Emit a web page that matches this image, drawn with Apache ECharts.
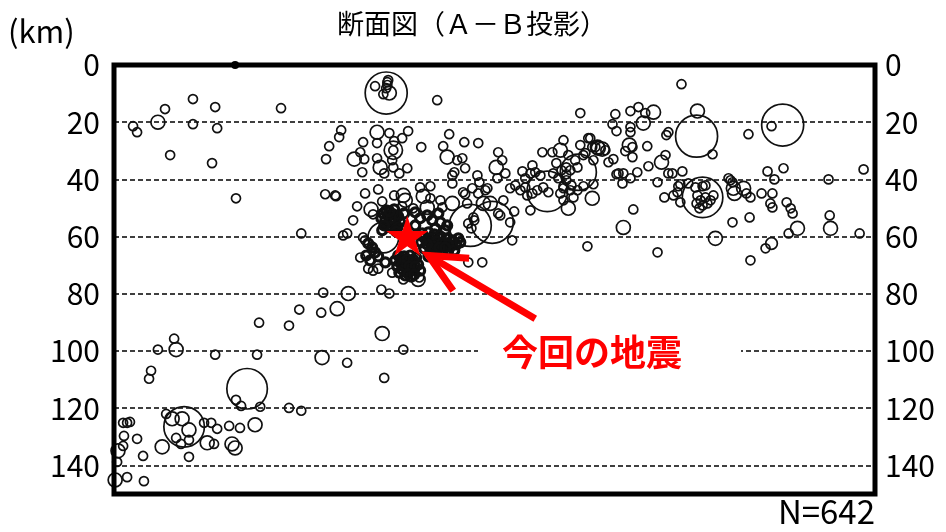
<!DOCTYPE html>
<html><head><meta charset="utf-8">
<script src="https://cdn.jsdelivr.net/npm/echarts@6/dist/echarts.min.js"></script>
<style>html,body{margin:0;padding:0;background:#fff}#c{width:946px;height:532px}</style>
</head><body><div id="c"></div>
<script>
// [distance km along A-B, depth km, magnitude]
const westShallow = [[6.7,21.4,2],[8.1,23.5,2],[15.4,20.0,2.7],[17.9,15.4,2],[27.7,11.9,2],[27.7,20.7,2],[35.5,14.7,2],[36.2,22.1,2],[19.7,31.5,2],[34.4,34.3,2],[42.8,46.6,2],[58.6,15.1,2]];
const westSlab = [[73.4,79.6,2],[82.2,79.9,2.7],[78.3,85.2,2.7],[65.0,85.5,2],[72.7,86.6,2],[50.9,90.1,2],[61.4,91.1,2],[21.1,95.7,2],[21.8,99.5,2.7],[15.4,99.5,2],[35.5,101.3,2],[50.2,101.3,2],[73.0,102.3,2.7],[81.8,104.1,2],[13.0,106.9,2],[12.3,109.7,2],[46.7,113.2,5.0],[42.8,117.1,2],[44.6,119.2,2],[51.3,119.5,2],[61.4,119.9,2],[65.7,120.9,2],[24.6,126.5,5.0],[18.3,122.0,2],[20.4,123.7,2.7],[23.9,123.7,2.7],[26.3,127.6,2.7],[21.8,130.4,2],[23.5,132.5,2],[26.3,131.1,2],[26.3,137.0,2],[16.9,133.5,2.7],[31.6,125.1,2],[34.1,125.1,2],[36.2,127.2,2],[32.7,132.1,2.7],[35.1,132.5,2],[40.4,126.2,2],[44.2,126.9,2],[49.5,125.8,2.7],[41.4,132.5,2.7],[42.5,133.9,2.7],[3.2,125.1,2],[4.6,125.1,2],[5.6,124.8,2],[3.5,129.7,2],[8.1,130.7,2],[3.2,133.2,2],[1.4,134.9,2.7],[1.1,138.8,2],[10.2,136.7,2],[0.4,145.1,2.7],[4.6,144.1,2],[10.5,145.5,2],[94.1,93.9,2.7],[93.8,78.5,2],[96.6,79.9,2],[101.5,99.5,2],[94.8,109.4,2],[107.1,74.3,2]];
const centralUpper = [[79.7,22.8,2],[79.0,25.2,2],[75.5,28.4,2],[74.4,32.9,2],[86.4,30.5,2],[74.1,45.2,2],[77.6,45.6,2],[85.3,49.4,2],[83.9,54.3,2],[81.8,58.9,2],[65.7,58.9,2],[86.4,67.3,2],[95.5,9.8,5.1],[91.6,7.4,2],[94.5,10.2,2],[96.6,9.8,2.7],[95.9,7.0,2],[95.9,6.0,2],[96.2,5.3,2],[95.5,8.1,2],[113.4,12.3,2],[163.6,16.8,2],[92.3,23.5,2.7],[96.6,23.8,2],[87.4,27.0,2],[92.3,27.3,2],[98.3,26.6,2],[101.1,25.6,2],[103.2,23.1,2],[98.0,29.8,3.2],[98.0,29.8,2],[107.8,28.7,2],[117.6,24.2,2],[122.9,27.0,2],[127.8,27.3,2],[115.5,28.4,2],[84.3,32.9,2.7],[87.8,32.9,2],[92.3,32.6,2],[93.4,35.8,2.7],[97.6,33.3,2],[98.0,35.8,2],[102.9,36.1,2],[100.1,37.9,2],[94.8,37.9,2],[87.1,37.5,2],[116.9,32.2,2.7],[120.4,33.3,2],[122.2,32.6,2],[119.4,37.5,2],[123.2,36.1,2],[118.7,38.6,2],[127.5,38.6,2],[134.1,35.8,2.7],[134.8,30.5,2],[136.2,33.3,2],[137.3,37.9,2],[134.5,39.6,2]];
const centralMid = [[77.9,45.9,2],[88.1,44.9,2],[92.7,43.5,2],[94.1,47.7,2],[90.9,52.2,2],[90.2,50.5,2.7],[98.3,45.6,2],[101.5,45.6,2.7],[102.2,47.3,2.7],[101.1,49.4,2],[107.4,42.8,2],[111.0,42.4,2],[108.5,45.9,2.7],[111.0,46.6,2],[105.0,50.1,2],[109.9,49.8,2.7],[114.5,47.3,2],[115.2,49.8,2],[118.7,48.4,2.7],[123.2,45.2,2],[123.9,48.4,2],[127.8,44.9,2],[131.0,43.1,2],[118.7,41.4,2],[128.2,41.0,2],[132.0,48.4,2.7],[125.0,56.1,5.1],[132.7,55.0,5.1],[124.3,55.4,2],[125.4,57.1,2],[126.4,54.3,2],[136.6,47.3,2],[134.8,51.9,2],[139.0,55.0,2],[139.7,61.3,2],[140.4,51.2,2],[88.1,61.3,2],[94.5,60.3,4.3],[87.4,60.3,2],[90.9,71.9,2],[89.2,71.2,2],[92.7,71.2,2],[97.6,72.6,2],[101.5,75.0,2],[106.7,75.0,2.7],[80.4,59.6,2],[124.3,69.0,2],[129.2,69.0,2],[122.5,44.5,2],[125.7,43.1,2],[130.3,43.8,2],[129.6,48.4,2.7],[135.5,52.6,2],[126.1,53.3,2]];
const eastNear = [[143.3,37.2,2],[146.8,35.1,2],[146.1,37.9,2],[147.8,37.5,2],[149.6,38.6,2],[150.3,30.5,2],[153.8,30.5,2],[157.7,26.3,2],[156.6,29.8,2.7],[155.2,34.3,2],[158.7,35.8,2],[157.0,36.8,2],[160.1,36.8,2],[154.1,37.9,2],[155.9,39.6,2],[158.7,40.3,2],[157.7,42.4,2],[160.5,42.1,2],[156.6,44.9,2],[158.7,38.2,2],[161.8,33.3,2],[159.4,31.5,2],[162.6,35.8,2],[166.4,25.6,2],[167.8,28.7,2],[169.6,28.7,2.7],[163.6,28.0,2],[165.4,30.8,2],[139.0,43.1,2],[140.8,42.1,2],[142.6,43.8,2],[144.3,42.8,2],[145.0,45.6,2],[146.8,44.9,2],[148.5,43.8,2],[150.6,42.8,2],[152.4,44.5,2],[144.3,39.6,2],[152.0,44.2,5.0],[162.9,37.5,4.7],[160.1,43.8,2],[162.6,43.8,2],[161.2,46.3,2],[157.7,43.1,2],[157.7,47.3,2],[146.1,50.8,2],[159.4,50.1,2.7],[167.8,46.6,2.7]];
const eastFar = [[199.1,6.7,2],[175.9,17.2,2],[181.2,16.1,2],[184.0,14.7,2],[186.4,16.8,2],[189.3,16.5,2.7],[185.7,20.3,2.7],[174.9,20.7,2],[176.3,23.1,2],[181.2,21.7,2],[181.2,23.5,2],[204.7,16.1,2.7],[204.4,24.9,5.1],[210.0,31.2,2],[194.5,23.5,2],[193.8,24.5,2],[234.6,21.0,5.1],[230.7,21.4,2],[222.6,24.2,2],[167.1,25.6,2],[169.9,29.1,2.7],[171.3,29.4,2.7],[172.4,29.8,2],[168.9,28.7,2],[180.8,28.0,2.7],[181.9,28.7,2],[187.1,28.4,2],[179.4,30.1,2],[181.9,32.2,2],[175.2,32.9,2],[173.5,34.0,2],[168.2,33.3,2],[164.7,31.5,2],[192.1,34.0,2.7],[193.5,31.5,2],[187.5,35.4,2],[183.6,37.5,2],[177.0,37.9,2],[178.7,37.9,2],[176.3,38.2,2],[181.2,39.6,2],[178.4,41.4,2],[194.5,37.9,2],[195.9,37.9,2],[199.4,37.2,2],[190.7,41.0,2],[198.0,42.4,2],[198.7,41.7,2],[197.7,44.5,2],[201.5,41.4,2],[168.2,41.7,2],[164.7,42.4,2],[193.1,46.3,2],[196.3,45.6,2],[198.7,48.0,2],[206.5,46.3,5.0],[204.0,42.8,2],[206.5,42.4,2],[207.5,42.1,2],[204.7,45.6,2],[205.8,47.3,2],[207.5,46.3,2],[209.3,47.3,2],[204.4,48.4,2],[206.5,49.1,2],[208.2,48.4,2],[210.3,45.6,2],[205.4,50.1,2],[215.6,39.6,2],[216.3,40.3,2],[217.0,41.0,2],[217.3,43.1,2.7],[217.7,44.9,2.7],[220.9,43.1,2.7],[221.9,44.9,2],[223.3,46.3,2],[227.2,44.9,2],[229.3,37.2,2],[234.9,36.1,2],[231.7,40.0,2],[231.0,44.9,2],[230.3,48.4,2],[231.0,49.8,2],[236.0,48.0,2],[237.4,50.1,2],[238.1,51.9,2],[250.7,40.0,2],[263.0,36.5,2],[251.1,52.6,2],[251.4,57.1,2.7],[239.8,57.1,2.7],[236.7,58.9,2],[261.6,58.9,2],[230.7,62.4,2.4],[228.6,64.1,2],[211.0,60.6,2.7],[223.0,53.3,2],[217.0,55.0,2],[182.2,50.5,2],[178.7,56.8,2.7],[166.1,63.4,2],[190.7,65.5,2],[223.3,68.3,2]];
const aftershocks = [[94.5,51.9,2],[96.2,52.6,2],[98.0,52.2,2],[99.7,52.9,2],[95.2,54.3,2],[96.9,55.0,2],[98.7,54.3,2],[100.4,55.0,2],[95.9,56.4,2],[97.6,57.1,2],[99.4,56.8,2],[94.1,57.8,2],[101.1,57.1,2],[95.5,50.8,2],[98.3,50.5,2],[93.8,53.6,2],[101.8,51.9,2],[97.2,53.6,2],[94.8,56.1,2],[99.0,58.2,2],[96.6,51.2,2],
[108.1,58.9,2],[110.3,58.5,2],[112.4,59.2,2],[114.5,59.9,2],[116.6,60.6,2],[118.7,61.3,2],[109.6,61.3,2],[111.7,62.0,2],[113.8,62.4,2],[115.9,62.7,2],[118.0,63.4,2],[120.1,62.7,2],[108.8,64.1,2],[111.0,64.8,2],[113.1,64.8,2],[115.2,65.5,2],[117.3,64.8,2],[110.3,66.9,2],[112.4,67.3,2],[114.5,60.6,2],[120.8,60.6,2],[116.2,57.8,2],[112.7,57.1,2],[108.8,60.3,2],[111.0,60.6,2],[113.1,61.7,2],[115.2,62.0,2],[117.3,62.7,2],[119.4,64.8,2],[112.0,63.4,2],[114.2,63.8,2],[109.9,62.7,2],[116.2,63.8,2],[121.5,62.0,2],[107.8,62.0,2],
[99.7,66.6,2],[101.8,66.9,2],[103.9,66.6,2],[106.0,67.3,2],[100.4,69.0,2],[102.5,69.4,2],[104.6,69.0,2],[106.7,69.8,2],[101.1,71.5,2],[103.2,71.9,2],[105.3,71.5,2],[102.2,73.6,2],[104.3,74.0,2],[99.4,70.4,2],[107.4,71.9,2],[100.8,67.6,2],[102.9,68.0,2],[105.0,68.0,2],[101.5,70.1,2],[103.6,70.4,2],[105.7,70.4,2],[100.1,72.6,2],[103.2,73.0,2],[105.3,73.3,2],[98.7,68.3,2],
[105.7,51.5,2],[107.4,53.6,2],[109.9,52.6,2],[111.7,54.3,2],[113.8,51.9,2],[105.7,56.1,2],[114.5,55.0,2],[116.9,56.1,2],
[89.2,62.4,2],[90.6,63.8,2],[91.6,65.5,2],[88.5,66.6,2],[89.9,68.3,2],[92.7,66.9,2],[95.2,69.0,2]];
const surfaceMark = [[42.5, 0]];
const mainshock = [[102.9, 59.7]];
const arrowShaft = [[147.8, 88.7], [110.3, 66.6]];
const arrowHead = [[124.6, 67.6], [110.3, 66.6], [119.0, 78.9]];
const depthTicks = [0, 20, 40, 60, 80, 100, 120, 140];

const hypocenters = [].concat(westShallow, westSlab, centralUpper, centralMid, eastNear, eastFar);
const FONT = '"Noto Sans CJK JP", "Noto Sans", sans-serif';
const chart = echarts.init(document.getElementById('c'));
const yAx = (pos, margin, split) => ({
  type: 'value', position: pos, inverse: true, min: 0, max: 150, interval: 20,
  axisLine: {show: false}, axisTick: {show: false},
  axisLabel: {show: true, margin: margin, color: '#000', fontSize: 30, fontFamily: FONT,
    formatter: v => depthTicks.indexOf(v) >= 0 ? String(v) : ''},
  splitLine: {show: split, lineStyle: {color: '#000', width: 1.5, type: [5, 3]}}
});
const ring = w => ({color: 'rgba(0,0,0,0)', borderColor: '#111', borderWidth: w, opacity: 1});
chart.setOption({
  animation: false,
  backgroundColor: '#fff',
  title: {text: '断面図（Ａ－Ｂ投影）', left: 332, top: 5,
    textStyle: {fontSize: 27, fontWeight: 'normal', color: '#000', fontFamily: FONT}},
  grid: {left: 114, right: 71, top: 65, bottom: 38, show: true, borderColor: '#000', borderWidth: 5, z: 5},
  xAxis: {type: 'value', min: 0, max: 267, show: false, splitLine: {show: false}},
  yAxis: [yAx('left', 14, true), yAx('right', 10, false)],
  graphic: [
    {type: 'text', left: 8, top: 16, z: 50, style: {text: '(km)', font: '31px ' + FONT, fill: '#000'}},
    {type: 'text', right: 71, top: 495, z: 50, style: {text: 'N=642', font: '33px ' + FONT, fill: '#000'}},
    {type: 'rect', shape: {x: 478, y: 342, width: 263, height: 18}, style: {fill: '#fff'}, z: 40},
    {type: 'text', x: 592, y: 352, z: 50, style: {text: '今回の地震', font: 'bold 36px ' + FONT, fill: '#ff0000', align: 'center', verticalAlign: 'middle'}}
  ],
  series: [
    {type: 'scatter', data: hypocenters, symbol: 'circle', z: 3,
      symbolSize: v => 3 + 1.5 * v[2] * v[2],
      itemStyle: ring(1.7), emphasis: {disabled: true}, silent: true},
    {type: 'scatter', data: aftershocks, symbol: 'circle', z: 3,
      symbolSize: v => 3 + 1.5 * v[2] * v[2],
      itemStyle: ring(3.2), emphasis: {disabled: true}, silent: true},
    {type: 'scatter', data: surfaceMark, symbol: 'circle', symbolSize: 8, z: 6,
      itemStyle: {color: '#000', opacity: 1}, silent: true},
    {type: 'line', data: arrowShaft, symbol: 'none', z: 7, silent: true,
      lineStyle: {color: '#ff0000', width: 7, cap: 'butt', opacity: 1}},
    {type: 'line', data: arrowHead, symbol: 'none', z: 7, silent: true,
      lineStyle: {color: '#ff0000', width: 7, cap: 'butt', join: 'miter', opacity: 1}},
    {type: 'scatter', data: mainshock, z: 8, silent: true,
      symbol: 'path://M50,0 L61.8,35.4 L100,35.4 L69.1,57.3 L80.9,92.7 L50,70.8 L19.1,92.7 L30.9,57.3 L0,35.4 L38.2,35.4 Z',
      symbolSize: [42, 40], itemStyle: {color: '#ff0000', opacity: 1}}
  ]
});
</script></body></html>
